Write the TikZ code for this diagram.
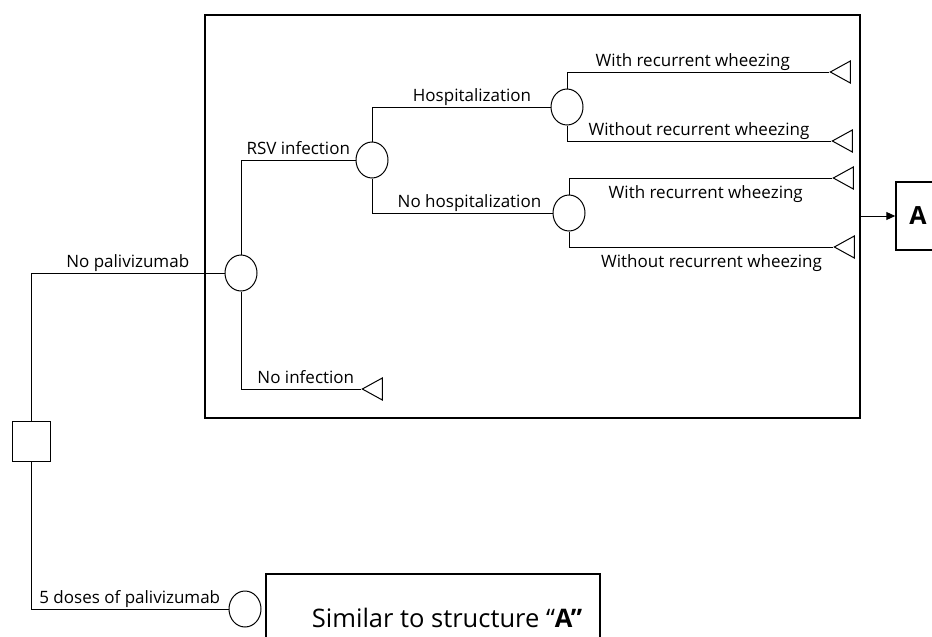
\documentclass[tikz,border=0pt]{standalone}
\usepackage{fontspec}
\setmainfont{Open Sans}
\usetikzlibrary{shapes.geometric, arrows.meta}

\begin{document}
\begin{tikzpicture}[x=1pt, y=-1pt, line width=1pt,
    font=\fontsize{17}{20}\selectfont,
    chance/.style={ellipse, draw, minimum width=32pt, minimum height=36pt, inner sep=0pt},
    decision/.style={rectangle, draw, minimum width=38pt, minimum height=40pt},
    term/.style={isosceles triangle, draw, shape border rotate=180,
      isosceles triangle stretches, minimum width=22pt, minimum height=20pt,
      inner sep=0pt, anchor=apex},
    lbl/.style={anchor=base, yshift=6pt},
    lblb/.style={anchor=base, yshift=-20pt},
    >={Stealth[length=9pt,width=8pt,inset=0pt]}]

  \useasboundingbox (0,0) rectangle (932,637);

  % frames
  \node[draw, line width=2.5pt, minimum width=655pt, minimum height=403pt] (treeA) at (532.5,216.5) {};
  \node[draw, line width=1.5pt, minimum width=44pt, minimum height=68pt,
    font=\bfseries\fontsize{25}{30}\selectfont] (boxA) at (918,216) {A};
  \node[draw, line width=1.5pt, minimum width=334pt, minimum height=110pt] (simA) at (433,629) {};
  \node[anchor=base, font=\fontsize{25.5}{30}\selectfont] (simtxt) at (447,627) {Similar to structure “\textbf{A”}};

  % nodes
  \node[decision] (dec) at (31,441) {};
  \node[chance] (c0) at (241,273) {};
  \node[chance] (c1) at (372,160) {};
  \node[chance] (c2) at (567,107) {};
  \node[chance] (c3) at (569,213) {};
  \node[chance] (c4) at (245,609) {};
  \node[term] (t0) at (361,389) {};
  \node[term] (t1) at (829,72) {};
  \node[term] (t2) at (831,141) {};
  \node[term] (t3) at (832,178) {};
  \node[term] (t4) at (833,247) {};

  % branches
  \draw (dec) |- (c0) node[lbl, pos=0.75] {No palivizumab};
  \draw (dec) |- (c4) node[lbl, pos=0.75] {5 doses of palivizumab};
  \draw (c0) |- (c1) node[lbl, pos=0.75] {RSV infection};
  \draw (c0) |- (t0) node[lbl, pos=0.77] {No infection};
  \draw (c1) |- (c2) node[lbl, pos=0.78] {Hospitalization};
  \draw (c1) |- (c3) node[lbl, pos=0.77] {No hospitalization};
  \draw (c2) |- (t1) node[lbl, pos=0.74] {With recurrent wheezing};
  \draw (c2) |- (t2) node[lbl, pos=0.75] {Without recurrent wheezing};
  \draw (c3) |- (t3) node[lblb, pos=0.76] {With recurrent wheezing};
  \draw (c3) |- (t4) node[lblb, pos=0.77] {Without recurrent wheezing};
  \draw[->] (treeA.east |- boxA.west) -- (boxA.west);
\end{tikzpicture}
\end{document}
